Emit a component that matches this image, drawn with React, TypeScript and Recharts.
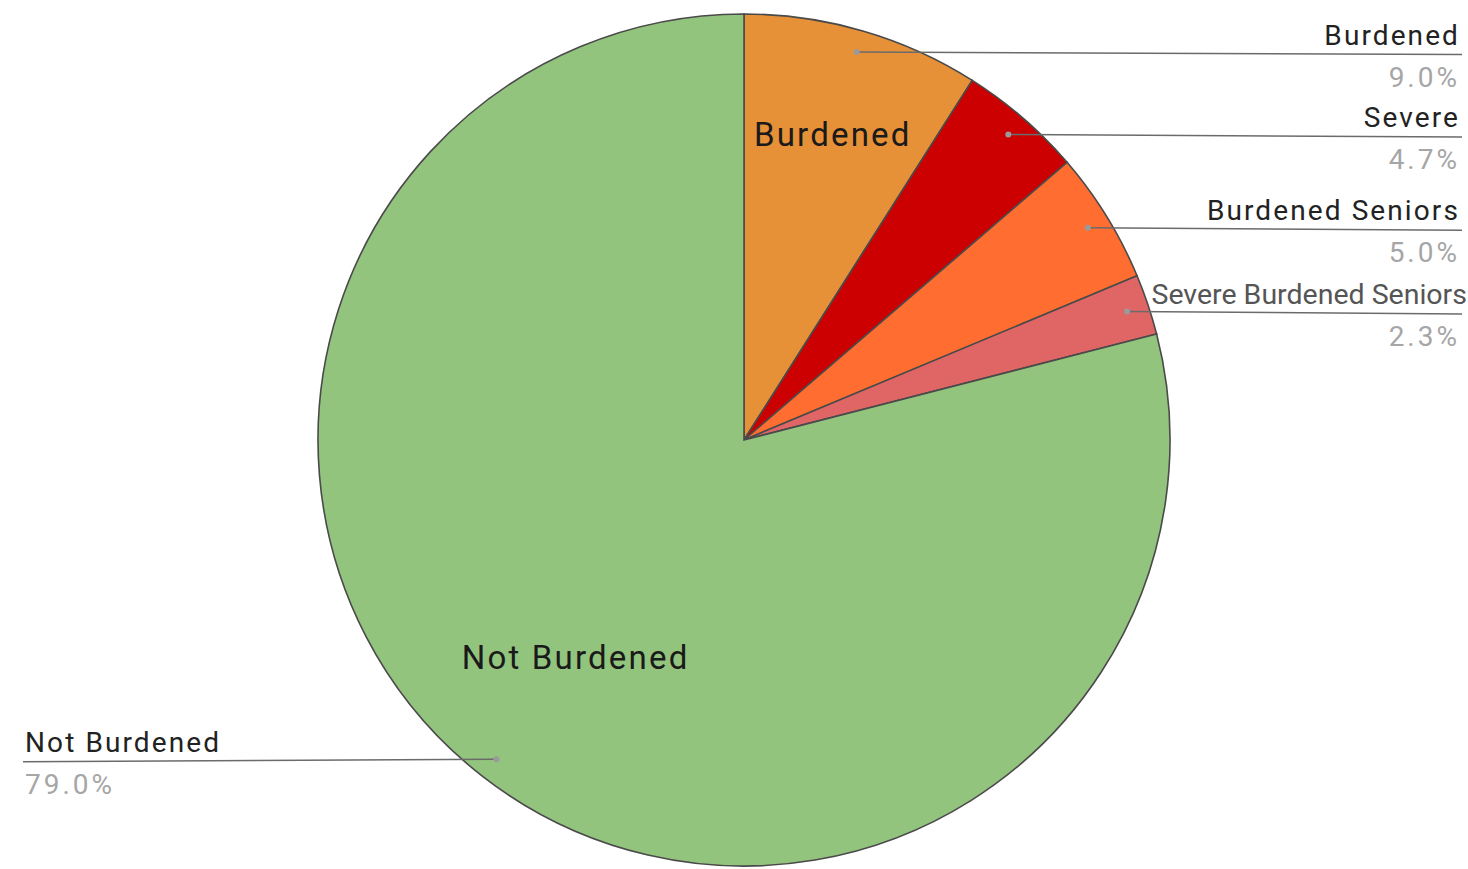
import React from "react";
import { PieChart, Pie, Cell } from "recharts";

const categories = ["Burdened", "Severe", "Burdened Seniors", "Severe Burdened Seniors", "Not Burdened"];
const shares = [9.0, 4.7, 5.0, 2.3, 79.0];
const sliceColors = ["#e69138", "#cc0000", "#ff6d31", "#e06666", "#93c47d"];

const data = categories.map((name, i) => ({ name, value: shares[i] }));

const RAD = Math.PI / 180;
const innerLabelRatio: Record<string, number> = { Burdened: 0.747, "Not Burdened": 0.645 };

const renderLabel = (props: any) => {
  const { cx, cy, midAngle, outerRadius, name, percent } = props;
  const dotR = outerRadius - 22;
  const dx = Math.cos(-midAngle * RAD);
  const dy = Math.sin(-midAngle * RAD);
  const px = cx + dotR * dx;
  const py = cy + dotR * dy;
  const right = dx >= 0;
  const lineY = py + 2.5;
  const lineEnd = right ? 1462 : 23;
  const long = name.length > 20;
  const textX = right ? (long ? 1467 : 1460) : 25;
  const pct = (percent * 100).toFixed(1) + "%";
  const ratio = innerLabelRatio[name];
  return (
    <g>
      <polyline points={`${px},${py} ${lineEnd},${lineY}`} fill="none" stroke="#6b6b6b" strokeWidth={1.5} />
      <circle cx={px} cy={py} r={3} fill="#9a9a9a" />
      <text
        x={textX}
        y={lineY - 10}
        textAnchor={right ? "end" : "start"}
        fontFamily="Roboto"
        fontSize={long ? 28.5 : 28}
        letterSpacing={long ? 0 : 2.1}
        fill={long ? "#555555" : "#222222"}
      >
        {name}
      </text>
      <text
        x={textX === 1467 ? 1460 : textX}
        y={lineY + 32}
        textAnchor={right ? "end" : "start"}
        fontFamily="Roboto"
        fontSize={28}
        letterSpacing={3}
        fill="#a6a6a6"
      >
        {pct}
      </text>
      {ratio ? (
        <text
          x={cx + outerRadius * ratio * dx}
          y={cy + outerRadius * ratio * dy}
          textAnchor="middle"
          dominantBaseline="central"
          fontFamily="Roboto"
          fontSize={33}
          letterSpacing={2.2}
          fill="#1a1a1a"
        >
          {name}
        </text>
      ) : null}
    </g>
  );
};

export default function App() {
  return (
    <div style={{ position: "absolute", left: 0, top: 0, width: 1468, height: 869, background: "#ffffff" }}>
      <PieChart width={1468} height={869} margin={{ top: 0, right: 0, bottom: 0, left: 0 }}>
        <Pie
          data={data}
          dataKey="value"
          nameKey="name"
          cx={744}
          cy={440}
          outerRadius={426}
          startAngle={90}
          endAngle={-270}
          stroke="#4a4a4a"
          strokeWidth={1.6}
          label={renderLabel}
          labelLine={false}
          isAnimationActive={false}
        >
          {data.map((d, i) => (
            <Cell key={d.name} fill={sliceColors[i]} />
          ))}
        </Pie>
      </PieChart>
    </div>
  );
}
